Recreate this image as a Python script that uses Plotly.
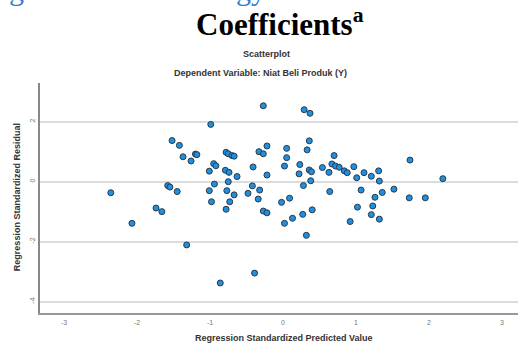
import plotly.graph_objects as go

# Regression standardized predicted values (x) and residuals (y)
pred = [
    -0.27, -0.99, -1.52, -1.42, -1.37, -1.26, -1.20, -1.18, -1.01, -0.95,
    -0.92, -0.78, -0.75, -0.70, -0.67, -0.79, -0.74, -0.63, -0.94, -0.75,
    -1.01, -0.77, -0.67, -0.41, -0.33, -0.27, -0.22, -0.22, -0.42, -0.32,
    -0.48, -0.34, -0.98, -0.73, -0.02, 0.05, 0.05, 0.02, -1.58, -1.55,
    -1.45, -2.36, 0.09,
    0.29, 0.37, 0.36, 0.33, 0.23, 0.22, 0.36, 0.39, 0.28, 0.38,
    0.54, 0.63, 0.70, 0.67, 0.72, 0.77, 0.84, 0.88, 0.97, 1.01,
    1.11, 1.21, 1.31, 1.32, 1.74, 2.19, 0.64, 1.07, 1.36, 1.52,
    1.26, 1.73, 1.95,
    1.02, 1.23, 0.40, 0.27, 0.13, 0.02, 0.92, 1.21, 1.32, 0.32,
    -1.74, -1.66, -2.07, -0.78, -0.27, -0.22, -1.32, -0.39, -0.86,
]
resid = [
    2.53, 1.91, 1.37, 1.21, 0.83, 0.69, 0.92, 0.90, 0.35, 0.60,
    0.53, 0.98, 0.93, 0.87, 0.85, 0.38, 0.31, 0.17, -0.08, 0.00,
    -0.30, -0.30, -0.44, 0.49, 1.00, 0.93, 1.19, 0.22, -0.14, -0.28,
    -0.39, -0.58, -0.67, -0.67, -0.69, 1.11, 0.80, 0.52, -0.13, -0.18,
    -0.33, -0.37, -0.55,
    2.40, 2.28, 1.36, 1.06, 0.57, 0.26, 0.39, 0.33, -0.13, 0.03,
    0.47, 0.31, 0.87, 0.59, 0.52, 0.48, 0.36, 0.30, 0.50, 0.13,
    0.30, 0.18, 0.36, 0.02, 0.72, 0.10, -0.33, -0.28, -0.36, -0.25,
    -0.52, -0.54, -0.54,
    -0.85, -0.81, -0.94, -1.09, -1.22, -1.39, -1.33, -1.10, -1.25, -1.79,
    -0.88, -1.00, -1.39, -0.92, -0.98, -1.04, -2.11, -3.05, -3.38,
]

x_ticks = [-3, -2, -1, 0, 1, 2, 3]
y_ticks = [-4, -2, 0, 2]

SANS = "Liberation Sans, Arial, sans-serif"
SERIF = "Liberation Serif, Times New Roman, serif"

fig = go.Figure()
fig.add_trace(go.Scatter(
    x=pred, y=resid, mode="markers",
    marker=dict(size=6, color="#1f8fe0", line=dict(width=1, color="#2a3a4a")),
    hoverinfo="x+y", showlegend=False,
))

fig.update_layout(
    width=518, height=345,
    margin=dict(l=40, r=0, t=83, b=32),
    paper_bgcolor="white", plot_bgcolor="white",
    font=dict(family=SANS, color="#333"),
    xaxis=dict(
        range=[-3.33, 3.22], tickvals=x_ticks, ticktext=[str(v) for v in x_ticks],
        showgrid=False, zeroline=False, showline=True, linecolor="#999", linewidth=2,
        ticks="", tickfont=dict(size=7, color="#777"), ticklabelstandoff=2,
    ),
    yaxis=dict(
        range=[-4.38, 3.29], tickvals=y_ticks, ticktext=[str(v) for v in y_ticks],
        showgrid=True, gridcolor="#dcdcdc", gridwidth=2, zeroline=False,
        showline=True, linecolor="#888", linewidth=2, ticks="",
        tickangle=-90, tickfont=dict(size=7, color="#777"),
    ),
)

ann = [
    dict(text="<b>Coefficients<sup>a</sup></b>", x=0.502, y=1.261,
         font=dict(family=SERIF, size=31, color="#000")),
    dict(text="<b>Scatterplot</b>", x=0.474, y=1.126,
         font=dict(family=SANS, size=9, color="#333")),
    dict(text="<b>Dependent Variable: Niat Beli Produk (Y)</b>", x=0.462, y=1.0435,
         font=dict(family=SANS, size=9, color="#333")),
    dict(text="<b>Regression Standardized Predicted Value</b>", x=0.51, y=-0.108,
         font=dict(family=SANS, size=9, color="#333")),
    dict(text="<b>Regression Standardized Residual</b>", x=-0.048, y=0.504,
         textangle=-90, font=dict(family=SANS, size=9, color="#333")),
    dict(text="g", x=-0.05, y=1.405,
         font=dict(family=SERIF, size=30, color="#2e7dd1")),
    dict(text="gy", x=0.442, y=1.405,
         font=dict(family=SERIF, size=30, color="#2e7dd1")),
]
for a in ann:
    a.update(xref="paper", yref="paper", showarrow=False,
             xanchor="center", yanchor="middle")
    fig.add_annotation(**a)

fig.write_html(
    "out.html",
    config={"displayModeBar": False},
    post_script="document.body.style.margin='0';document.body.style.overflow='hidden';",
)
